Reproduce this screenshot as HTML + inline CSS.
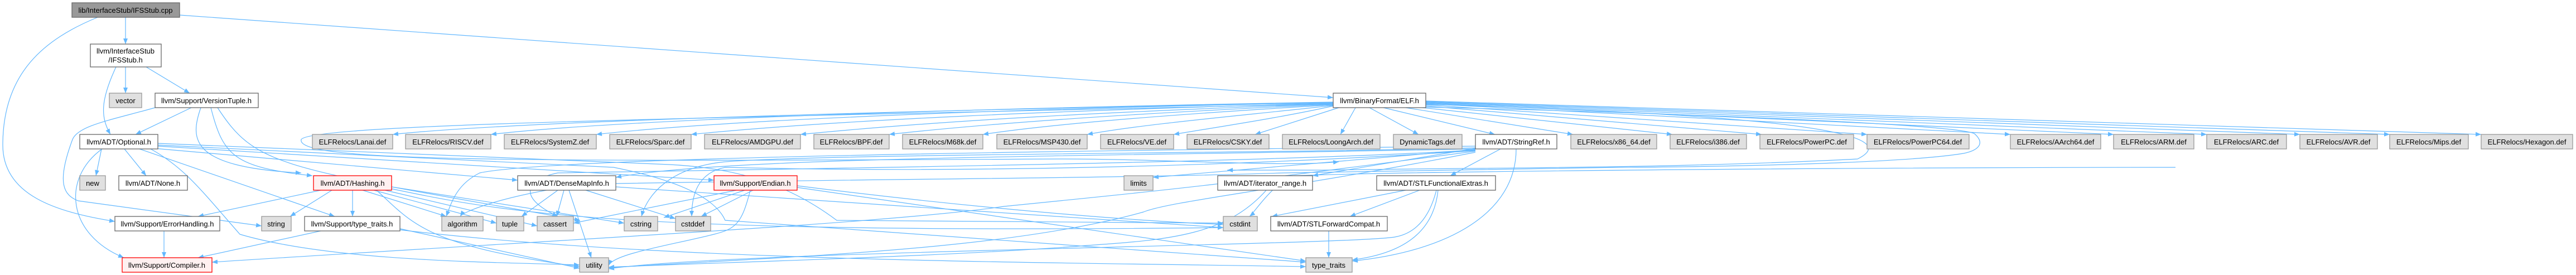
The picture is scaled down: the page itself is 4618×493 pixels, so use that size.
<!DOCTYPE html>
<html><head><meta charset="utf-8"><style>
html,body{margin:0;padding:0;background:#fff;}
svg{display:block;}
text{font-family:"Liberation Sans",Arial,sans-serif;font-size:13px;fill:#000;}
.w{fill:#fff;stroke:#666;stroke-width:1.3}
.g{fill:#e0e0e0;stroke:#999;stroke-width:1.3}
.r{fill:#fff0f0;stroke:#f00;stroke-width:1.3}
.d{fill:#999;stroke:#666;stroke-width:1.3}
path.e{fill:none;stroke:#63b8ff;stroke-width:1.2;marker-end:url(#a)}
</style></head><body>
<svg width="4618" height="493" viewBox="0 0 4618 493" xmlns="http://www.w3.org/2000/svg">
<defs><marker id="a" viewBox="0 0 10 8" refX="10" refY="4" markerWidth="10" markerHeight="8" markerUnits="userSpaceOnUse" orient="auto"><path d="M0,0 L10,4 L0,8 z" fill="#63b8ff"/></marker></defs>

<g>
<path class="e" d="M225,31 L225,79"/>
<path class="e" d="M175,31 C80,70 5,130 5,260 C5,350 100,380 206,397"/>
<path class="e" d="M322,27 L2390,175"/>
<path class="e" d="M225,120 L225,167"/>
<path class="e" d="M262,120 L340,167"/>
<path class="e" d="M208,120 C180,180 180,210 198,241"/>
<path class="e" d="M343,193 L243,241"/>
<path class="e" d="M278,193 C200,215 140,225 130,250 C100,330 115,350 140,360 L469,405"/>
<path class="e" d="M360,193 C340,250 340,300 540,310"/>
<path class="e" d="M378,193 C400,280 420,300 560,315"/>
<path class="e" d="M390,193 C460,300 500,300 1040,395"/>
<path class="e" d="M182,267 L172,315"/>
<path class="e" d="M223,267 L262,315"/>
<path class="e" d="M183,267 C110,320 120,420 222,462"/>
<path class="e" d="M283,257 L1200,295 C1300,300 1400,320 1500,395 L2193,400"/>
<path class="e" d="M270,267 C330,300 360,340 430,420 C600,470 900,470 1039,475"/>
<path class="e" d="M250,267 L600,388"/>
<path class="e" d="M265,265 L928,323"/>
<path class="e" d="M283,262 L1280,323"/>
<path class="e" d="M283,260 L1100,300 C1200,320 1280,350 1300,395 L2341,470"/>
<path class="e" d="M294,401 L294,462"/>
<path class="e" d="M575,341 L355,388"/>
<path class="e" d="M595,341 L520,388"/>
<path class="e" d="M632,341 L632,388"/>
<path class="e" d="M650,341 L800,388"/>
<path class="e" d="M670,341 L890,400"/>
<path class="e" d="M690,341 L963,405"/>
<path class="e" d="M702,335 L1119,400"/>
<path class="e" d="M700,338 C900,380 1100,420 2193,408"/>
<path class="e" d="M675,341 C740,400 760,440 1039,478"/>
<path class="e" d="M575,414 L355,462"/>
<path class="e" d="M717,410 L1039,481"/>
<path class="e" d="M717,412 C1200,470 1900,470 2341,478"/>
<path class="e" d="M1000,341 L935,388"/>
<path class="e" d="M1011,341 L998,388"/>
<path class="e" d="M1020,341 L1060,462"/>
<path class="e" d="M1050,341 L1211,392"/>
<path class="e" d="M1104,335 L2193,408"/>
<path class="e" d="M1320,341 L1028,400"/>
<path class="e" d="M1335,341 L1190,390"/>
<path class="e" d="M1350,341 L1257,388"/>
<path class="e" d="M1345,341 C1330,400 1320,410 1280,420 C1200,440 1100,455 1091,476"/>
<path class="e" d="M1429,336 L2341,468"/>
<path class="e" d="M1429,333 C1800,380 2100,400 2193,402"/>
<path class="e" d="M2390,186 C1400,210 560,220 540,250 C530,290 900,290 1900,285 C2100,285 2300,300 2400,290"/>
<path class="e" d="M2390,184 C1500,200 900,220 704,241"/>
<path class="e" d="M2390,183 C1700,195 1100,215 880,241"/>
<path class="e" d="M2390,184 C1800,195 1300,215 1069,241"/>
<path class="e" d="M2390,185 C1900,198 1500,215 1239,241"/>
<path class="e" d="M2390,186 C2000,200 1700,215 1435,241"/>
<path class="e" d="M2390,187 C2100,200 1800,218 1594,241"/>
<path class="e" d="M2390,188 C2150,202 1900,220 1762,241"/>
<path class="e" d="M2390,189 C2250,205 2050,222 1949,241"/>
<path class="e" d="M2390,190 C2300,210 2200,225 2104,241"/>
<path class="e" d="M2400,193 L2250,241"/>
<path class="e" d="M2430,193 L2403,241"/>
<path class="e" d="M2455,193 L2543,241"/>
<path class="e" d="M2480,193 L2680,241"/>
<path class="e" d="M2520,193 L2820,241"/>
<path class="e" d="M2550,193 L2998,241"/>
<path class="e" d="M2556,190 L3158,241"/>
<path class="e" d="M2556,188 L3347,241"/>
<path class="e" d="M2556,186 L3604,241"/>
<path class="e" d="M2556,185 L3789,241"/>
<path class="e" d="M2556,184 L3956,241"/>
<path class="e" d="M2556,183 L4123,241"/>
<path class="e" d="M2556,182 L4284,241"/>
<path class="e" d="M2556,181 L4448,241"/>
<path class="e" d="M2556,192 C3100,205 3520,225 3540,240 C3560,258 3545,270 3520,275 C3400,295 3000,300 2900,300 L2300,310 C2000,320 1600,320 1050,330 C900,350 830,380 825,388"/>
<path class="e" d="M2556,187 C3000,200 3450,225 3330,285 C3000,302 2700,300 2370,305 L2200,305"/>
<path class="e" d="M2645,265 C2300,275 1500,275 1300,290 C1200,300 1160,350 1150,388"/>
<path class="e" d="M2645,267 C2000,280 1300,280 1104,318"/>
<path class="e" d="M2645,268 L2067,318"/>
<path class="e" d="M2645,266 L2353,315"/>
<path class="e" d="M2690,267 L2600,315"/>
<path class="e" d="M2718,267 C2718,380 2600,450 2424,468"/>
<path class="e" d="M2645,269 C2300,290 1600,300 1000,310 C950,320 920,350 1000,388"/>
<path class="e" d="M2645,270 C2200,300 1700,310 1300,300 C1250,310 1240,350 1240,388"/>
<path class="e" d="M2645,262 C2000,270 1000,280 860,310 C820,330 810,360 800,388"/>
<path class="e" d="M2645,271 C2200,330 2100,340 1800,370 C1600,400 1000,430 380,470"/>
<path class="e" d="M2645,273 C2300,340 2100,360 2050,380 C1800,450 1400,460 1091,480"/>
<path class="e" d="M2520,341 L2280,388"/>
<path class="e" d="M2545,341 L2420,388"/>
<path class="e" d="M2575,341 C2560,400 2530,420 2500,425 C2400,440 1300,450 1091,482"/>
<path class="e" d="M2578,341 C2570,420 2510,455 2424,466"/>
<path class="e" d="M2382,414 L2382,462"/>
<path class="e" d="M2270,341 C2200,420 2100,430 1950,440 C1700,460 1300,470 1091,479"/>
<path class="e" d="M3900,300 C3500,300 2600,305 2320,315 C2280,330 2250,380 2240,388"/>
</g>

<g>
<rect class="d" x="129" y="5" width="193" height="26"/><text x="225" y="23" text-anchor="middle">lib/InterfaceStub/IFSStub.cpp</text>
<rect class="w" x="162" y="79" width="127" height="41"/><text x="225" y="96" text-anchor="middle">llvm/InterfaceStub</text><text x="225" y="112" text-anchor="middle">/IFSStub.h</text>
<rect class="g" x="196" y="167" width="58" height="26"/><text x="225" y="185" text-anchor="middle">vector</text>
<rect class="w" x="278" y="167" width="185" height="26"/><text x="370" y="185" text-anchor="middle">llvm/Support/VersionTuple.h</text>
<rect class="w" x="143" y="241" width="140" height="26"/><text x="213" y="259" text-anchor="middle">llvm/ADT/Optional.h</text>
<rect class="w" x="2390" y="167" width="166" height="26"/><text x="2473" y="185" text-anchor="middle">llvm/BinaryFormat/ELF.h</text>

<rect class="g" x="560" y="241" width="144" height="26"/><text x="632" y="259" text-anchor="middle">ELFRelocs/Lanai.def</text>
<rect class="g" x="727" y="241" width="153" height="26"/><text x="803" y="259" text-anchor="middle">ELFRelocs/RISCV.def</text>
<rect class="g" x="904" y="241" width="165" height="26"/><text x="986" y="259" text-anchor="middle">ELFRelocs/SystemZ.def</text>
<rect class="g" x="1093" y="241" width="146" height="26"/><text x="1166" y="259" text-anchor="middle">ELFRelocs/Sparc.def</text>
<rect class="g" x="1263" y="241" width="172" height="26"/><text x="1349" y="259" text-anchor="middle">ELFRelocs/AMDGPU.def</text>
<rect class="g" x="1459" y="241" width="135" height="26"/><text x="1526" y="259" text-anchor="middle">ELFRelocs/BPF.def</text>
<rect class="g" x="1618" y="241" width="144" height="26"/><text x="1690" y="259" text-anchor="middle">ELFRelocs/M68k.def</text>
<rect class="g" x="1787" y="241" width="162" height="26"/><text x="1868" y="259" text-anchor="middle">ELFRelocs/MSP430.def</text>
<rect class="g" x="1973" y="241" width="131" height="26"/><text x="2038" y="259" text-anchor="middle">ELFRelocs/VE.def</text>
<rect class="g" x="2128" y="241" width="147" height="26"/><text x="2201" y="259" text-anchor="middle">ELFRelocs/CSKY.def</text>
<rect class="g" x="2299" y="241" width="175" height="26"/><text x="2386" y="259" text-anchor="middle">ELFRelocs/LoongArch.def</text>
<rect class="g" x="2498" y="241" width="123" height="26"/><text x="2559" y="259" text-anchor="middle">DynamicTags.def</text>
<rect class="w" x="2645" y="241" width="146" height="26"/><text x="2718" y="259" text-anchor="middle">llvm/ADT/StringRef.h</text>
<rect class="g" x="2816" y="241" width="154" height="26"/><text x="2893" y="259" text-anchor="middle">ELFRelocs/x86_64.def</text>
<rect class="g" x="2994" y="241" width="137" height="26"/><text x="3062" y="259" text-anchor="middle">ELFRelocs/i386.def</text>
<rect class="g" x="3155" y="241" width="168" height="26"/><text x="3239" y="259" text-anchor="middle">ELFRelocs/PowerPC.def</text>
<rect class="g" x="3347" y="241" width="183" height="26"/><text x="3438" y="259" text-anchor="middle">ELFRelocs/PowerPC64.def</text>
<rect class="g" x="3604" y="241" width="162" height="26"/><text x="3685" y="259" text-anchor="middle">ELFRelocs/AArch64.def</text>
<rect class="g" x="3789" y="241" width="144" height="26"/><text x="3861" y="259" text-anchor="middle">ELFRelocs/ARM.def</text>
<rect class="g" x="3956" y="241" width="143" height="26"/><text x="4027" y="259" text-anchor="middle">ELFRelocs/ARC.def</text>
<rect class="g" x="4123" y="241" width="139" height="26"/><text x="4192" y="259" text-anchor="middle">ELFRelocs/AVR.def</text>
<rect class="g" x="4284" y="241" width="141" height="26"/><text x="4354" y="259" text-anchor="middle">ELFRelocs/Mips.def</text>
<rect class="g" x="4448" y="241" width="164" height="26"/><text x="4530" y="259" text-anchor="middle">ELFRelocs/Hexagon.def</text>

<rect class="g" x="143" y="315" width="46" height="26"/><text x="166" y="333" text-anchor="middle">new</text>
<rect class="w" x="213" y="315" width="123" height="26"/><text x="274" y="333" text-anchor="middle">llvm/ADT/None.h</text>
<rect class="r" x="562" y="315" width="140" height="26"/><text x="632" y="333" text-anchor="middle">llvm/ADT/Hashing.h</text>
<rect class="w" x="928" y="315" width="176" height="26"/><text x="1016" y="333" text-anchor="middle">llvm/ADT/DenseMapInfo.h</text>
<rect class="r" x="1280" y="315" width="149" height="26"/><text x="1354" y="333" text-anchor="middle">llvm/Support/Endian.h</text>
<rect class="g" x="2015" y="315" width="52" height="26"/><text x="2041" y="333" text-anchor="middle">limits</text>
<rect class="w" x="2183" y="315" width="170" height="26"/><text x="2268" y="333" text-anchor="middle">llvm/ADT/iterator_range.h</text>
<rect class="w" x="2468" y="315" width="213" height="26"/><text x="2574" y="333" text-anchor="middle">llvm/ADT/STLFunctionalExtras.h</text>

<rect class="w" x="206" y="388" width="188" height="26"/><text x="300" y="406" text-anchor="middle">llvm/Support/ErrorHandling.h</text>
<rect class="g" x="469" y="388" width="53" height="26"/><text x="495" y="406" text-anchor="middle">string</text>
<rect class="w" x="546" y="388" width="171" height="26"/><text x="631" y="406" text-anchor="middle">llvm/Support/type_traits.h</text>
<rect class="g" x="792" y="388" width="74" height="26"/><text x="829" y="406" text-anchor="middle">algorithm</text>
<rect class="g" x="890" y="388" width="49" height="26"/><text x="914" y="406" text-anchor="middle">tuple</text>
<rect class="g" x="963" y="388" width="65" height="26"/><text x="995" y="406" text-anchor="middle">cassert</text>
<rect class="g" x="1119" y="388" width="60" height="26"/><text x="1149" y="406" text-anchor="middle">cstring</text>
<rect class="g" x="1211" y="388" width="63" height="26"/><text x="1242" y="406" text-anchor="middle">cstddef</text>
<rect class="g" x="2193" y="388" width="61" height="26"/><text x="2223" y="406" text-anchor="middle">cstdint</text>
<rect class="w" x="2278" y="388" width="209" height="26"/><text x="2382" y="406" text-anchor="middle">llvm/ADT/STLForwardCompat.h</text>

<rect class="r" x="219" y="462" width="161" height="26"/><text x="299" y="480" text-anchor="middle">llvm/Support/Compiler.h</text>
<rect class="g" x="1039" y="462" width="52" height="26"/><text x="1065" y="480" text-anchor="middle">utility</text>
<rect class="g" x="2341" y="462" width="83" height="26"/><text x="2382" y="480" text-anchor="middle">type_traits</text>
</g>
</svg>
</body></html>
